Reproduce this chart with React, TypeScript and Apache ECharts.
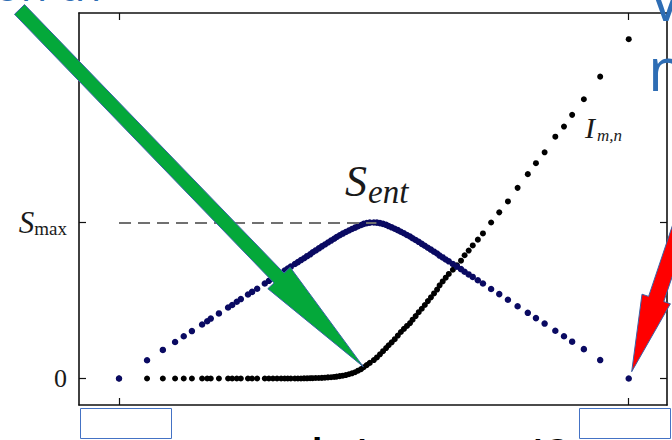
import React, { useEffect, useRef } from "react";
import * as echarts from "echarts";

// Sweep parameter (same sampling for both curves)
const xParam = [
  0, 0.055, 0.086, 0.11, 0.127, 0.143, 0.163, 0.173, 0.18, 0.196, 0.214, 0.222, 0.231, 0.239, 0.253,
  0.261, 0.271, 0.286, 0.294, 0.302, 0.31, 0.318, 0.325, 0.331, 0.337, 0.345, 0.351, 0.357, 0.363,
  0.369, 0.375, 0.38, 0.386, 0.392, 0.398, 0.404, 0.41, 0.416, 0.422, 0.427, 0.433, 0.439, 0.445,
  0.451, 0.457, 0.463, 0.469, 0.475, 0.48, 0.486, 0.492,
  0.5,
  0.506, 0.512, 0.518, 0.524, 0.529, 0.535, 0.541, 0.547, 0.553, 0.559, 0.565, 0.571, 0.576, 0.582,
  0.588, 0.594, 0.6, 0.606, 0.612, 0.618, 0.624, 0.629, 0.635, 0.641, 0.647, 0.655, 0.663, 0.671,
  0.678, 0.686, 0.694, 0.704, 0.714, 0.73, 0.746, 0.763, 0.782, 0.802, 0.818, 0.835, 0.856, 0.873,
  0.889, 0.912, 0.944, 1,
];

// Entanglement entropy S_ent, in units of S_max
const entropy = [
  0, 0.117, 0.183, 0.234, 0.271, 0.304, 0.346, 0.367, 0.384, 0.417, 0.455, 0.471, 0.492, 0.509, 0.538,
  0.555, 0.575, 0.609, 0.626, 0.642, 0.659, 0.676, 0.692, 0.705, 0.717, 0.734, 0.746, 0.759, 0.771,
  0.784, 0.796, 0.809, 0.821, 0.834, 0.847, 0.859, 0.872, 0.884, 0.896, 0.907, 0.918, 0.929, 0.939,
  0.949, 0.958, 0.967, 0.976, 0.984, 0.991, 0.996, 0.999,
  1.0,
  0.999, 0.996, 0.991, 0.985, 0.977, 0.969, 0.96, 0.951, 0.941, 0.931, 0.92, 0.91, 0.899, 0.888,
  0.876, 0.863, 0.851, 0.838, 0.826, 0.813, 0.801, 0.788, 0.776, 0.763, 0.751, 0.734, 0.717, 0.701,
  0.684, 0.667, 0.651, 0.63, 0.609, 0.574, 0.541, 0.505, 0.463, 0.421, 0.387, 0.352, 0.306, 0.271,
  0.236, 0.188, 0.118, 0,
];

// Mutual information I_{m,n}, same units
const mutualInfo = [
  0, 0, 0, 0, 0, 0, 0, 0, 0, 0, 0, 0, 0, 0, 0,
  0, 0, 0, 0, 0, 0, 0, 0, 0, 0, 0, 0, 0, 0.001,
  0.001, 0.002, 0.002, 0.003, 0.003, 0.004, 0.005, 0.007, 0.008, 0.01, 0.012, 0.015, 0.018, 0.022,
  0.027, 0.033, 0.04, 0.05, 0.06, 0.072, 0.086, 0.1,
  0.118,
  0.135, 0.155, 0.175, 0.195, 0.213, 0.232, 0.252, 0.275, 0.298, 0.318, 0.337, 0.355, 0.377, 0.4,
  0.425, 0.447, 0.471, 0.496, 0.52, 0.545, 0.57, 0.597, 0.622, 0.646, 0.67, 0.697, 0.726, 0.755,
  0.79, 0.82, 0.853, 0.89, 0.93, 1.0, 1.065, 1.135, 1.222, 1.31, 1.38, 1.45, 1.55, 1.615,
  1.69, 1.79, 1.935, 2.175,
];

const xTickValues = [0, 1];
const yTickValues = [0, 1];
const yTickLabels = ["{n|0}", "{s|S}{sub|max}"];
const sMaxLevel = 1;
const sMaxLineEnd = 0.505;

const SERIF = "'Liberation Serif', 'DejaVu Serif', serif";
const SANS = "'Open Sans', 'Noto Sans', sans-serif";
const BLUE_TEXT = "#2E6DB4";

function buildOption(): echarts.EChartsOption {
  const frameLine = { show: true, onZero: false, lineStyle: { color: "#111", width: 1.6 } };
  const xTicks = {
    show: true,
    inside: true,
    length: 7,
    customValues: xTickValues,
    lineStyle: { color: "#111", width: 1.2 },
  };
  const yTicks = { ...xTicks, customValues: yTickValues };

  return {
    animation: false,
    backgroundColor: "#fff",
    grid: { left: 79, right: 5, top: 13, bottom: 35 },
    xAxis: [
      {
        type: "value",
        position: "bottom",
        min: -0.0785,
        max: 1.0751,
        axisLine: frameLine,
        axisTick: xTicks as any,
        axisLabel: { show: false },
        splitLine: { show: false },
      },
      {
        type: "value",
        position: "top",
        min: -0.0785,
        max: 1.0751,
        axisLine: frameLine,
        axisTick: xTicks as any,
        axisLabel: { show: false },
        splitLine: { show: false },
      },
    ],
    yAxis: [
      {
        type: "value",
        position: "left",
        min: -0.17,
        max: 2.343,
        axisLine: frameLine,
        axisTick: yTicks as any,
        splitLine: { show: false },
        axisLabel: {
          show: true,
          customValues: yTickValues,
          margin: 12,
          formatter: (v: number) => yTickLabels[yTickValues.indexOf(v)] ?? "",
          rich: {
            n: { fontFamily: SERIF, fontSize: 26, color: "#1a1a1a" },
            s: {
              fontFamily: SERIF,
              fontStyle: "italic",
              fontSize: 31,
              lineHeight: 32,
              color: "#1a1a1a",
            },
            sub: {
              fontFamily: SERIF,
              fontSize: 19,
              lineHeight: 14,
              verticalAlign: "bottom",
              color: "#1a1a1a",
            },
          },
        } as any,
      },
      {
        type: "value",
        position: "right",
        min: -0.17,
        max: 2.343,
        axisLine: frameLine,
        axisTick: yTicks as any,
        axisLabel: { show: false },
        splitLine: { show: false },
      },
    ],
    series: [
      {
        type: "scatter",
        name: "I",
        symbol: "circle",
        symbolSize: 6,
        itemStyle: { color: "#000", opacity: 1 },
        data: xParam.map((x, i) => [x, mutualInfo[i]]),
        z: 2,
      },
      {
        type: "scatter",
        name: "S",
        symbol: "circle",
        symbolSize: 6.5,
        itemStyle: { color: "#0a0a62", opacity: 1 },
        data: xParam.map((x, i) => [x, entropy[i]]),
        z: 3,
        markLine: {
          silent: true,
          symbol: ["none", "none"],
          label: { show: false },
          lineStyle: { color: "#707070", width: 2, type: [12, 7] },
          data: [[{ coord: [0, sMaxLevel] }, { coord: [sMaxLineEnd, sMaxLevel] }]] as any,
        },
      },
    ],
    graphic: [
      // curve labels
      {
        type: "text",
        x: 345,
        y: 181,
        z: 50,
        style: {
          text: "S",
          font: `italic 44px ${SERIF}`,
          fill: "#1a1a1a",
          verticalAlign: "middle",
        },
      },
      {
        type: "text",
        x: 368,
        y: 192,
        z: 50,
        style: {
          text: "ent",
          font: `italic 33px ${SERIF}`,
          fill: "#1a1a1a",
          verticalAlign: "middle",
        },
      },
      {
        type: "text",
        x: 585,
        y: 127,
        z: 50,
        style: { text: "I", font: `italic 30px ${SERIF}`, fill: "#1a1a1a", verticalAlign: "middle" },
      },
      {
        type: "text",
        x: 597,
        y: 135,
        z: 50,
        style: { text: "m,n", font: `italic 17px ${SERIF}`, fill: "#1a1a1a", verticalAlign: "middle" },
      },
      // green arrow
      {
        type: "polygon",
        z: 100,
        shape: {
          points: [
            [24.5, 4.6],
            [284, 273.1],
            [290.2, 267.3],
            [363.3, 366.7],
            [267.8, 288.7],
            [274, 282.9],
            [14.5, 14.3],
          ],
        },
        style: { fill: "#04A83A", stroke: "#3A62A8", lineWidth: 1 },
      },
      // red arrow
      {
        type: "polygon",
        z: 100,
        shape: {
          points: [
            [712.4, 106.8],
            [648.6, 296.4],
            [642, 294.2],
            [631.7, 371.7],
            [670.4, 303.8],
            [663.8, 301.6],
            [727.6, 112],
          ],
        },
        style: { fill: "#FF0000", stroke: "#3A62A8", lineWidth: 1 },
      },
      // boxes over the x tick labels
      {
        type: "rect",
        z: 100,
        shape: { x: 80.5, y: 408.5, width: 91, height: 30 },
        style: { fill: "#fff", stroke: "#4472C4", lineWidth: 1 },
      },
      {
        type: "rect",
        z: 100,
        shape: { x: 579.5, y: 408.5, width: 91, height: 30 },
        style: { fill: "#fff", stroke: "#4472C4", lineWidth: 1 },
      },
      // slide text around the figure
      {
        type: "text",
        x: -6,
        y: 6,
        z: 100,
        style: {
          text: "on th",
          font: `44px ${SANS}`,
          fill: BLUE_TEXT,
          verticalAlign: "bottom",
        },
      },
      {
        type: "text",
        x: 648,
        y: 28,
        z: 100,
        style: { text: "V", font: `60px ${SANS}`, fill: BLUE_TEXT, verticalAlign: "bottom" },
      },
      {
        type: "text",
        x: 648,
        y: 98,
        z: 100,
        style: { text: "n", font: `60px ${SANS}`, fill: BLUE_TEXT, verticalAlign: "bottom" },
      },
      {
        type: "text",
        x: 366,
        y: 431,
        z: 100,
        style: {
          text: "sult (",
          font: `600 44px ${SANS}`,
          fill: "#000",
          align: "right",
          verticalAlign: "top",
        },
      },
      {
        type: "text",
        x: 534,
        y: 431,
        z: 100,
        style: { text: ")?", font: `600 44px ${SANS}`, fill: "#000", verticalAlign: "top" },
      },
    ] as any,
  };
}

export default function App() {
  const ref = useRef<HTMLDivElement>(null);

  useEffect(() => {
    if (!ref.current) return;
    const chart = echarts.init(ref.current, undefined, { renderer: "svg" });
    chart.setOption(buildOption());
    return () => chart.dispose();
  }, []);

  return (
    <div
      ref={ref}
      style={{
        position: "fixed",
        left: 0,
        top: 0,
        width: 672,
        height: 440,
        overflow: "hidden",
        background: "#fff",
      }}
    />
  );
}
